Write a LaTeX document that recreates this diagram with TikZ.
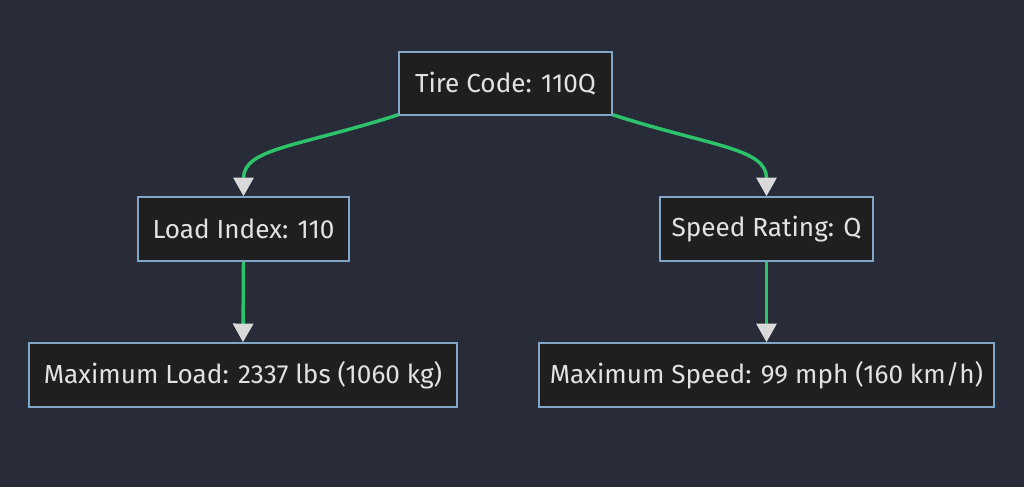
\documentclass[tikz,border=0pt]{standalone}
\usepackage{fontspec}
\setmainfont{Fira Sans}
\usetikzlibrary{arrows.meta}
\definecolor{bg}{HTML}{282C38}
\definecolor{nodefill}{HTML}{1F1F1F}
\definecolor{nodeline}{HTML}{81A6C6}
\definecolor{edge}{HTML}{2CC36B}
\definecolor{txt}{HTML}{E2E2E2}
\definecolor{tip}{HTML}{D9D9D9}
\begin{document}
\begin{tikzpicture}[x=0.75pt,y=-0.75pt,
  box/.style={draw=nodeline, fill=nodefill, line width=1.2pt, text=txt,
    font=\fontsize{19.6}{24}\selectfont, inner sep=0pt, anchor=center},
  link/.style={draw=edge, line width=2.6pt,
    -{Triangle[length=14pt,width=15pt,fill=tip,color=tip]}, shorten >=0pt}]
\fill[bg] (0,0) rectangle (1024,487);
\useasboundingbox (0,0) rectangle (1024,487);
\node[box, minimum width=213*0.75pt, minimum height=63*0.75pt] (tc) at (505.5,83.5) {Tire Code: 110Q};
\node[box, minimum width=211*0.75pt, minimum height=64*0.75pt] (li) at (243.5,229) {Load Index: 110};
\node[box, minimum width=213*0.75pt, minimum height=64*0.75pt] (sr) at (766.5,229) {Speed Rating: Q};
\node[box, minimum width=428*0.75pt, minimum height=64*0.75pt] (ml) at (243,375) {Maximum Load: 2337 lbs (1060 kg)};
\node[box, minimum width=455*0.75pt, minimum height=64*0.75pt] (ms) at (766.5,375) {Maximum Speed: 99 mph (160 km/h)};
\draw[link] (tc.south west) ++(0,-1) .. controls +(-100,32) and +(0,-48) .. (li.north);
\draw[link] (tc.south east) ++(0,-1) .. controls +(100,32) and +(0,-48) .. (sr.north);
\draw[link] (li.south) -- (ml.north);
\draw[link] (sr.south) -- (ms.north);
\end{tikzpicture}
\end{document}
